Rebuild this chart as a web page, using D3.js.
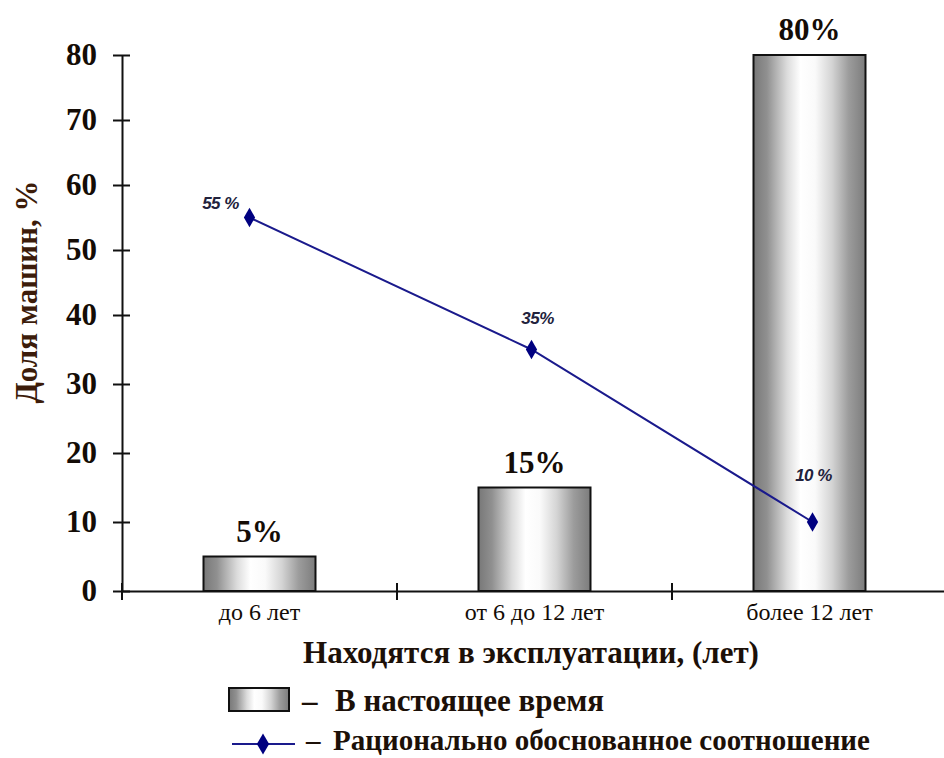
<!DOCTYPE html>
<html>
<head>
<meta charset="utf-8">
<script src="https://cdn.jsdelivr.net/npm/d3@7/dist/d3.min.js"></script>
<style>
  body { margin: 0; background: #fff; }
  text { font-family: "Liberation Serif", "DejaVu Serif", serif; }
</style>
</head>
<body>
<svg width="944" height="758"></svg>
<script>
var categories = ["до 6 лет", "от 6 до 12 лет", "более 12 лет"];
var currentValues = [5, 15, 80];
var currentLabels = ["5%", "15%", "80%"];
var rationalValues = [55, 35, 10];
var rationalLabels = ["55 %", "35%", "10 %"];
var yTicks = [0, 10, 20, 30, 40, 50, 60, 70, 80];

var svg = d3.select("svg"),
    plotLeft = 122, plotRight = 947, plotTop = 55, plotBottom = 591;

var defs = svg.append("defs");
var grad = defs.append("linearGradient").attr("id", "barGrad")
    .attr("x1", "0%").attr("x2", "100%").attr("y1", "0%").attr("y2", "0%");
[[0, "#787878"], [0.12, "#909090"], [0.3, "#dcdcdc"], [0.42, "#fff"], [0.55, "#fafafa"], [0.7, "#d4d4d4"], [0.85, "#9c9c9c"], [1, "#7c7c7c"]]
    .forEach(function(s) { grad.append("stop").attr("offset", s[0]).attr("stop-color", s[1]); });

var x = d3.scaleBand().domain(categories).range([plotLeft, plotRight]);
// the scanned axis is slightly uneven, so map through its middle tick
var y = d3.scaleLinear().domain([0, 40, 80]).range([plotBottom, 315, plotTop]);
var barW = 112;
function cx(i) { return x(categories[i]) + x.bandwidth() / 2; }

// bars
svg.selectAll(".bar")
    .data(currentValues)
    .enter().append("rect")
    .attr("class", "bar")
    .attr("x", function(d, i) { return cx(i) - barW / 2; })
    .attr("y", function(d) { return y(d); })
    .attr("width", barW)
    .attr("height", function(d) { return plotBottom - y(d); })
    .attr("fill", "url(#barGrad)")
    .attr("stroke", "#111")
    .attr("stroke-width", 2);

svg.selectAll(".barLabel")
    .data(currentValues)
    .enter().append("text")
    .attr("x", function(d, i) { return cx(i); })
    .attr("y", function(d) { return y(d) - 15; })
    .attr("text-anchor", "middle")
    .attr("font-size", 31)
    .attr("font-weight", "bold")
    .attr("fill", "#140c06")
    .text(function(d, i) { return currentLabels[i]; });

// y axis
var yAxis = d3.axisLeft(y).tickValues(yTicks).tickSize(0).tickPadding(25);
var gy = svg.append("g").attr("transform", "translate(" + plotLeft + ",0)").call(yAxis);
gy.select(".domain").attr("stroke", "#111").attr("stroke-width", 2);
gy.selectAll(".tick line").attr("x1", -9).attr("x2", 8).attr("stroke", "#111").attr("stroke-width", 2);
gy.selectAll(".tick text")
    .attr("font-family", "Liberation Serif").attr("font-size", 31).attr("font-weight", "bold").attr("fill", "#140c06");

// x axis
var xAxis = d3.axisBottom(x).tickSize(0).tickPadding(12);
var gx = svg.append("g").attr("transform", "translate(0," + plotBottom + ")").call(xAxis);
gx.select(".domain").attr("stroke", "#111").attr("stroke-width", 2);
gx.selectAll(".tick line").remove();
gx.selectAll(".tick text")
    .attr("font-family", "Liberation Serif").attr("font-size", 24).attr("fill", "#140c06");
gx.selectAll(".sep")
    .data(categories)
    .enter().append("line")
    .attr("x1", function(d) { return x(d); }).attr("x2", function(d) { return x(d); })
    .attr("y1", -8).attr("y2", 9)
    .attr("stroke", "#111").attr("stroke-width", 2);

// line series
var shift = [-10, -3, 3];
var line = d3.line()
    .x(function(d, i) { return cx(i) + shift[i]; })
    .y(function(d) { return y(d); });
svg.append("path")
    .datum(rationalValues)
    .attr("d", line)
    .attr("fill", "none")
    .attr("stroke", "#1a1a8c")
    .attr("stroke-width", 2);

svg.selectAll(".pt")
    .data(rationalValues)
    .enter().append("path")
    .attr("class", "pt")
    .attr("transform", function(d, i) { return "translate(" + (cx(i) + shift[i]) + "," + y(d) + ")"; })
    .attr("d", d3.symbol().type(d3.symbolDiamond).size(110))
    .attr("fill", "#000080");

var labelDx = [-29, 6, 1], labelDy = [-9, -26, -41];
svg.selectAll(".ptLabel")
    .data(rationalValues)
    .enter().append("text")
    .attr("x", function(d, i) { return cx(i) + shift[i] + labelDx[i]; })
    .attr("y", function(d, i) { return y(d) + labelDy[i]; })
    .attr("text-anchor", "middle")
    .style("font-family", "'Liberation Sans', Arial, sans-serif")
    .attr("font-size", 17)
    .attr("font-weight", "bold")
    .attr("font-style", "italic")
    .attr("letter-spacing", -0.5)
    .attr("fill", "#22223c")
    .text(function(d, i) { return rationalLabels[i]; });

// titles
svg.append("text")
    .attr("transform", "translate(37,292) rotate(-90)")
    .attr("text-anchor", "middle")
    .attr("font-size", 31).attr("font-weight", "bold").attr("fill", "#3c1c0a")
    .text("Доля машин, %");

svg.append("text")
    .attr("x", 531).attr("y", 663)
    .attr("text-anchor", "middle")
    .attr("font-size", 31).attr("font-weight", "bold").attr("fill", "#1c1008")
    .text("Находятся в эксплуатации, (лет)");

// legend
svg.append("rect").attr("x", 229).attr("y", 688).attr("width", 60).attr("height", 23)
    .attr("fill", "url(#barGrad)").attr("stroke", "#111").attr("stroke-width", 2);
svg.append("text").attr("x", 302).attr("y", 711)
    .attr("font-size", 31).attr("font-weight", "bold").attr("fill", "#1c1008")
    .text("–");
svg.append("text").attr("x", 335).attr("y", 711)
    .attr("font-size", 31).attr("font-weight", "bold").attr("fill", "#1c1008")
    .text("В настоящее время");

svg.append("line").attr("x1", 232).attr("x2", 295).attr("y1", 744).attr("y2", 744)
    .attr("stroke", "#1a1a8c").attr("stroke-width", 2);
svg.append("path").attr("transform", "translate(263,744)")
    .attr("d", d3.symbol().type(d3.symbolDiamond).size(130)).attr("fill", "#000080");
svg.append("text").attr("x", 306).attr("y", 750)
    .attr("font-size", 29).attr("font-weight", "bold").attr("fill", "#1c1008")
    .text("–");
svg.append("text").attr("x", 333).attr("y", 750)
    .attr("font-size", 29).attr("font-weight", "bold").attr("fill", "#1c1008")
    .text("Рационально обоснованное соотношение");
</script>
</body>
</html>
